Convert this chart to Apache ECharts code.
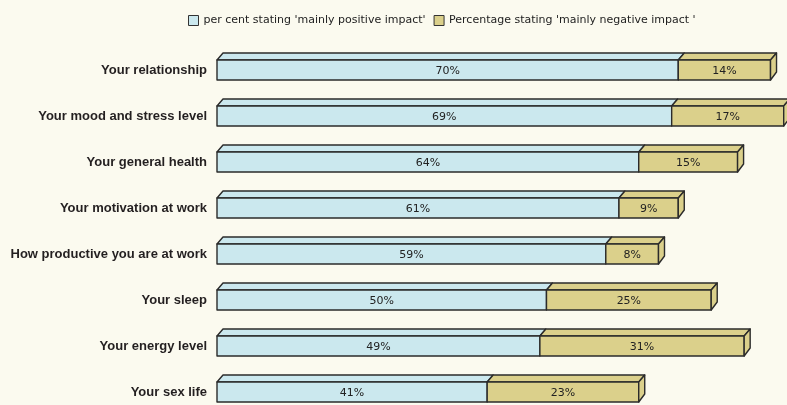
<!DOCTYPE html>
<html><head><meta charset="utf-8">
<script src="https://cdn.jsdelivr.net/npm/echarts@6/dist/echarts.min.js"></script>
<style>html,body{margin:0;padding:0;background:#fbfaef;}#c{width:787px;height:405px;}</style>
</head><body><div id="c"></div>
<script>
const categories = ["Your relationship","Your mood and stress level","Your general health","Your motivation at work","How productive you are at work","Your sleep","Your energy level","Your sex life"];
const positive = [70,69,64,61,59,50,49,41];
const negative = [14,17,15,9,8,25,31,23];
const seriesNames = ["per cent stating 'mainly positive impact'","Percentage stating 'mainly negative impact '"];
const colors = ["#cbe8ee","#dbd08b"];

const posData = categories.map((c,i)=>[i,0,positive[i],positive[i]]);
const negData = categories.map((c,i)=>[i,positive[i],positive[i]+negative[i],negative[i]]);

function makeRender(isLast, color){
  return function(params, api){
    const cat = api.value(0);
    const p0 = api.coord([api.value(1), cat]);
    const p1 = api.coord([api.value(2), cat]);
    const h = 20, dx = 6, dy = 7;
    const yT = p0[1]-h/2, yB = p0[1]+h/2;
    const x0 = p0[0], x1 = p1[0];
    const st = {fill: color, stroke: '#2b2b2b', lineWidth: 1.4, lineJoin:'round'};
    const children = [
      {type:'polygon', shape:{points:[[x0,yT],[x0+dx,yT-dy],[x1+dx,yT-dy],[x1,yT]]}, style: st},
      {type:'rect', shape:{x:x0,y:yT,width:x1-x0,height:h}, style: st}
    ];
    if(isLast){
      children.push({type:'polygon', shape:{points:[[x1,yT],[x1+dx,yT-dy],[x1+dx,yB-dy-1],[x1,yB]]}, style: st});
    }
    children.push({type:'text', x:(x0+x1)/2, y:p0[1]+1, style:{text: api.value(3)+'%', align:'center', verticalAlign:'middle', fill:'#222', font:'11px "DejaVu Sans"'}});
    return {type:'group', children};
  };
}

const chart = echarts.init(document.getElementById('c'), null, {renderer:'canvas'});
chart.setOption({
  backgroundColor:'#fbfaef',
  animation:false,
  legend:{
    top:10, left:183, itemWidth:10, itemHeight:10, itemGap:8,
    icon:'rect',
    textStyle:{fontFamily:'DejaVu Sans', fontSize:11, color:'#222'},
    data: seriesNames.map((n,i)=>({name:n, itemStyle:{color:colors[i], borderColor:'#333', borderWidth:1}}))
  },
  grid:{left:217, right:0, top:70, bottom:13, containLabel:false},
  xAxis:{type:'value', min:0, max:86.5, show:false},
  yAxis:{type:'category', data:categories, inverse:true, boundaryGap:false,
    axisLine:{show:false}, axisTick:{show:false}, splitLine:{show:false},
    axisLabel:{margin:10, fontFamily:'Liberation Sans', fontWeight:'bold', fontSize:13, color:'#231f20'}},
  series:[
    {name:seriesNames[0], type:'custom', renderItem:makeRender(false, colors[0]), data:posData, encode:{x:[1,2], y:0}, itemStyle:{color:colors[0]}},
    {name:seriesNames[1], type:'custom', renderItem:makeRender(true, colors[1]), data:negData, encode:{x:[1,2], y:0}, itemStyle:{color:colors[1]}}
  ]
});
</script></body></html>
